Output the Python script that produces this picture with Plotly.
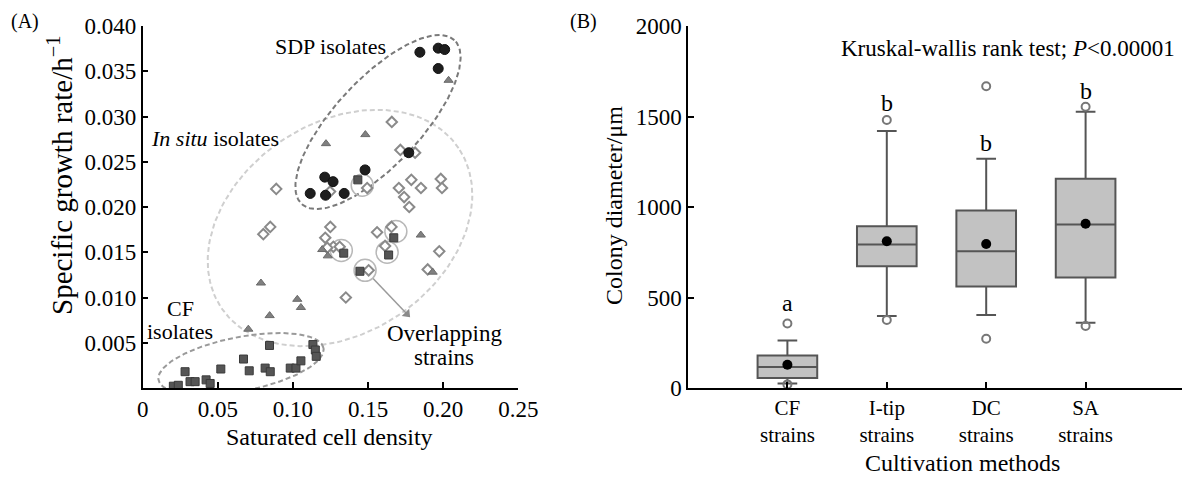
import numpy as np
import plotly.graph_objects as go

# ---------------- Panel A data ----------------
sdp_x = [0.1845, 0.1967, 0.2010, 0.1967, 0.1771, 0.1480, 0.1212, 0.1267, 0.1115, 0.1217, 0.1341]
sdp_y = [0.0371, 0.03755, 0.0374, 0.0353, 0.0260, 0.0241, 0.0233, 0.0228, 0.0215, 0.0213, 0.0215]

sq_x = [0.0204, 0.0237, 0.0282, 0.0315, 0.0349, 0.0422, 0.0449, 0.0520, 0.0671, 0.0709,
        0.0815, 0.0844, 0.0849, 0.0982, 0.1020, 0.1053, 0.1133, 0.1149, 0.1155,
        0.1432, 0.1671, 0.1637, 0.1338, 0.1446]
sq_y = [0.0002, 0.0003, 0.0018, 0.0007, 0.0007, 0.0009, 0.0005, 0.0021, 0.0032, 0.0019,
        0.0022, 0.0047, 0.0018, 0.0022, 0.0022, 0.0030, 0.0048, 0.0042, 0.0035,
        0.0230, 0.0166, 0.0147, 0.0149, 0.0129]

tri_x = [0.2036, 0.1482, 0.1220, 0.1851, 0.1195, 0.1232, 0.1930, 0.0787, 0.1029, 0.1053, 0.0845, 0.0703]
tri_y = [0.0340, 0.0280, 0.0270, 0.0169, 0.0153, 0.0146, 0.0128, 0.0116, 0.0098, 0.0089, 0.0080, 0.0065]

dia_x = [0.1658, 0.0889, 0.1715, 0.1813, 0.1788, 0.1852, 0.1705, 0.1740, 0.1774, 0.1984,
         0.1992, 0.1494, 0.1247, 0.0803, 0.0849, 0.1249, 0.1215, 0.1269, 0.1311, 0.1228,
         0.1560, 0.1656, 0.1613, 0.1974, 0.1897, 0.1504, 0.1352]
dia_y = [0.0294, 0.0220, 0.0263, 0.0260, 0.0230, 0.0221, 0.0221, 0.0211, 0.0200, 0.0231,
         0.0221, 0.0221, 0.0217, 0.0170, 0.0178, 0.0178, 0.0166, 0.0156, 0.0156, 0.0155,
         0.0172, 0.0178, 0.0157, 0.0151, 0.0131, 0.0130, 0.0100]

ring_x = [0.1461, 0.1685, 0.1627, 0.1322, 0.1480]
ring_y = [0.0224, 0.0173, 0.0150, 0.0152, 0.0130]

# ---------------- Panel B data ----------------
cats = ["CF", "I-tip", "DC", "SA"]
cat_line2 = ["strains", "strains", "strains", "strains"]
q1 = [55, 672, 561, 611]
med = [116, 793, 756, 904]
q3 = [180, 893, 981, 1156]
low_fence = [25, 398, 404, 361]
up_fence = [262, 1420, 1267, 1526]
means = [128, 811, 796, 907]
out_cat = [0, 0, 1, 1, 2, 2, 3, 3]
out_val = [356, 20, 1481, 376, 1667, 272, 1554, 343]
letters = ["a", "b", "b", "b"]
letter_y = [470, 1573, 1352, 1643]

# ---------------- geometry helpers ----------------
OFF = 8                      # page body margin of the written html
W, H = 1190 - OFF, 477 - OFF
FONT = "Liberation Serif"
AX0, AX1 = 142.7, 518.3      # panel A x extent (page pixels)
BX0, BX1 = 688.0, 1185.0     # panel B x extent (page pixels)
Y_TOP, Y_BOT = 26.0, 388.0
SX = (AX1 - AX0) / 0.25
SY = (Y_BOT - Y_TOP) / 0.040


def px(x):
    return (x - OFF) / W


def py(y):
    return 1 - (y - OFF) / H


def dx_(p):
    return (p - AX0) / SX


def dy_(p):
    return (Y_BOT - p) / SY


def ellipse(cx_px, cy_px, a, b, ang_deg):
    t = np.linspace(0, 2 * np.pi, 200)
    phi = np.deg2rad(ang_deg)
    ddx = a * np.cos(t) * np.cos(phi) - b * np.sin(t) * np.sin(phi)
    ddy = a * np.cos(t) * np.sin(phi) + b * np.sin(t) * np.cos(phi)
    xs = (cx_px - AX0 + ddx) / SX
    ys = (Y_BOT - cy_px + ddy) / SY
    return xs, ys


fig = go.Figure()

# ellipses
for (cx, cy, a, b, ang, col) in [
    (340, 228, 143, 105, 34, "#cfcfcf"),
    (378, 122, 112, 43, 47, "#7a7a7a"),
    (241, 364, 84, 27, 11, "#9a9a9a"),
]:
    ex, ey = ellipse(cx, cy, a, b, ang)
    fig.add_trace(go.Scatter(x=ex, y=ey, mode="lines", xaxis="x", yaxis="y",
                             line=dict(color=col, width=2, dash="5px,3px"),
                             hoverinfo="skip"))

# pointer from a highlighted strain towards the "Overlapping strains" label
fig.add_trace(go.Scatter(x=[dx_(372.6), dx_(406)], y=[dy_(277.9), dy_(313)],
                         mode="lines", xaxis="x", yaxis="y",
                         line=dict(color="#9a9a9a", width=1.5), hoverinfo="skip"))
fig.add_trace(go.Scatter(x=[dx_(407)], y=[dy_(314)], mode="markers", xaxis="x", yaxis="y",
                         marker=dict(symbol="triangle-up", size=9, angle=136,
                                     color="#8a8a8a"),
                         hoverinfo="skip"))

# highlight rings for overlapping strains
fig.add_trace(go.Scatter(x=ring_x, y=ring_y, mode="markers", xaxis="x", yaxis="y",
                         marker=dict(symbol="circle-open", size=22,
                                     line=dict(color="#b8b8b8", width=1.5), color="#b8b8b8")))

fig.add_trace(go.Scatter(x=dia_x, y=dia_y, mode="markers", xaxis="x", yaxis="y",
                         marker=dict(symbol="diamond", size=8, color="white",
                                     line=dict(color="#8a8a8a", width=2))))
fig.add_trace(go.Scatter(x=tri_x, y=tri_y, mode="markers", xaxis="x", yaxis="y",
                         marker=dict(symbol="triangle-up", size=8, color="#808080",
                                     line=dict(color="#6a6a6a", width=1))))
fig.add_trace(go.Scatter(x=sq_x, y=sq_y, mode="markers", xaxis="x", yaxis="y",
                         marker=dict(symbol="square", size=8, color="#555555",
                                     line=dict(color="#3a3a3a", width=1))))
fig.add_trace(go.Scatter(x=sdp_x, y=sdp_y, mode="markers", xaxis="x", yaxis="y",
                         marker=dict(symbol="circle", size=10, color="#1e1e1e",
                                     line=dict(color="#111111", width=1))))

# ---------------- Panel B traces ----------------
pos = list(range(len(cats)))
fig.add_trace(go.Box(x=pos, q1=q1, median=med, q3=q3,
                     lowerfence=low_fence, upperfence=up_fence,
                     xaxis="x2", yaxis="y2", width=0.6, whiskerwidth=0.33,
                     fillcolor="#c2c2c2", line=dict(color="#555555", width=2),
                     boxpoints=False))
fig.add_trace(go.Scatter(x=out_cat, y=out_val, mode="markers", xaxis="x2", yaxis="y2",
                         marker=dict(symbol="circle-open", size=8,
                                     line=dict(color="#777777", width=2), color="#777777")))
fig.add_trace(go.Scatter(x=pos, y=means, mode="markers", xaxis="x2", yaxis="y2",
                         marker=dict(symbol="circle", size=10, color="black")))

axis_common = dict(showline=True, linecolor="black", linewidth=1.5, ticks="inside",
                   ticklen=6, tickwidth=1.5, tickcolor="black", showgrid=False,
                   zeroline=False, tickfont=dict(family=FONT, size=23, color="black"),
                   automargin=False)

fig.update_layout(
    width=W, height=H,
    margin=dict(l=0, r=0, t=0, b=0),
    paper_bgcolor="white", plot_bgcolor="white",
    showlegend=False,
    font=dict(family=FONT, color="black"),
    xaxis=dict(domain=[px(AX0), px(AX1)], range=[0, 0.25], anchor="y",
               tickvals=[0, 0.05, 0.10, 0.15, 0.20, 0.25],
               ticktext=["0", "0.05", "0.10", "0.15", "0.20", "0.25"], **axis_common),
    yaxis=dict(domain=[py(Y_BOT), py(Y_TOP)], range=[0, 0.040], anchor="x",
               tickvals=[0.005, 0.010, 0.015, 0.020, 0.025, 0.030, 0.035, 0.040],
               ticktext=["0.005", "0.010", "0.015", "0.020", "0.025", "0.030", "0.035", "0.040"],
               **axis_common),
    xaxis2=dict(domain=[px(BX0), min(px(BX1), 1.0)], range=[-1, 4], anchor="y2",
                tickvals=pos, ticktext=[f"{c}<br>{s}" for c, s in zip(cats, cat_line2)],
                **axis_common),
    yaxis2=dict(domain=[py(Y_BOT), py(Y_TOP)], range=[0, 2000], anchor="x2",
                tickvals=[0, 500, 1000, 1500, 2000], **axis_common),
)
fig.update_xaxes(tickfont_size=21, selector=dict(anchor="y2"))

ann = []


def text(x, y, s, size=22, angle=0, xref="paper", yref="paper", yanchor="middle"):
    ann.append(dict(x=x, y=y, xref=xref, yref=yref, text=s, showarrow=False,
                    textangle=angle, font=dict(family=FONT, size=size, color="black"),
                    xanchor="center", yanchor=yanchor))


text(px(25), 1.0, "(A)", 20, yanchor="top")
text(px(583), 1.0, "(B)", 20, yanchor="top")
text(px(60), py(176), "Specific growth rate/h<sup>−1</sup>", 29, -90)
text(px(329), py(437), "Saturated cell density", 24)
text(px(330), py(47), "SDP isolates", 22)
text(px(215), py(138), "<i>In situ</i> isolates", 22)
text(px(180), py(308), "CF", 22)
text(px(180), py(331), "isolates", 22)
text(px(444), py(333), "Overlapping", 23)
text(px(444), py(357), "strains", 23)
text(px(614), py(206), "Colony diameter/μm", 24, -90)
text(px(962), py(463), "Cultivation methods", 24)
text(px(1008), py(48), "Kruskal-wallis rank test; <i>P</i>&lt;0.00001", 23)
for i, s in enumerate(letters):
    text(i, letter_y[i], s, 24, xref="x2", yref="y2")

fig.update_layout(annotations=ann)
fig.write_html("out.html")
